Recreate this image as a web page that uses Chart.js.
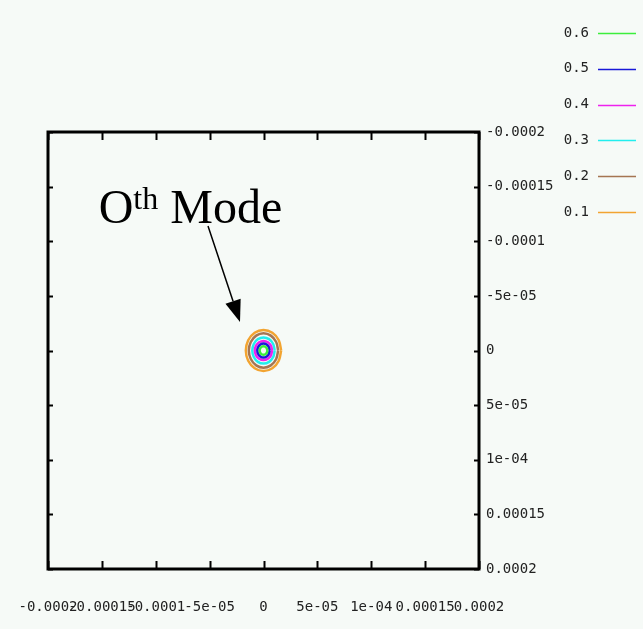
<!DOCTYPE html>
<html>
<head>
<meta charset="utf-8">
<script src="https://cdn.jsdelivr.net/npm/chart.js@4"></script>
<style>
  html, body { margin: 0; padding: 0; background: #f6faf7; }
  #wrap { width: 643px; height: 629px; }
</style>
</head>
<body>
<div id="wrap"><canvas id="modeChart"></canvas></div>
<script>
// contour levels, top of the key first
const levels = ['0.6', '0.5', '0.4', '0.3', '0.2', '0.1'];
const levelColors = ['#3cee3c', '#1818d8', '#ee22ee', '#22eeee', '#a57552', '#f2a431'];

// contour outlines, [x, y] in units of 1e-5
const ring06 = [[0.36,0],[0.31,0.2],[0.18,0.35],[0,0.4],[-0.18,0.35],[-0.31,0.2],[-0.36,0],[-0.31,-0.2],[-0.18,-0.35],[0,-0.4],[0.18,-0.35],[0.31,-0.2]];
const ring05 = [[0.57,0],[0.49,0.32],[0.29,0.55],[0,0.65],[-0.29,0.55],[-0.49,0.32],[-0.57,0],[-0.49,-0.32],[-0.29,-0.55],[0,-0.65],[0.29,-0.55],[0.49,-0.32]];
const ring04 = [[0.8,0],[0.69,0.44],[0.4,0.76],[0,0.88],[-0.4,0.76],[-0.69,0.44],[-0.8,0],[-0.69,-0.44],[-0.4,-0.76],[0,-0.88],[0.4,-0.76],[0.69,-0.44]];
const ring03 = [[1.04,0],[0.9,0.6],[0.52,1.04],[0,1.2],[-0.52,1.04],[-0.9,0.6],[-1.04,0],[-0.9,-0.6],[-0.52,-1.04],[0,-1.2],[0.52,-1.04],[0.9,-0.6]];
const ring02 = [[1.36,0],[1.18,0.78],[0.68,1.36],[0,1.57],[-0.68,1.36],[-1.18,0.78],[-1.36,0],[-1.18,-0.78],[-0.68,-1.36],[0,-1.57],[0.68,-1.36],[1.18,-0.78]];
const ring01 = [[1.64,0],[1.42,0.94],[0.82,1.63],[0,1.88],[-0.82,1.63],[-1.42,0.94],[-1.64,0],[-1.42,-0.94],[-0.82,-1.63],[0,-1.88],[0.82,-1.63],[1.42,-0.94]];
const rings = [ring06, ring05, ring04, ring03, ring02, ring01];

// axis ticks
const tickValues = [-0.0002, -0.00015, -0.0001, -0.00005, 0, 0.00005, 0.0001, 0.00015, 0.0002];
const tickLabels = ['-0.0002', '-0.00015', '-0.0001', '-5e-05', '0', '5e-05', '1e-04', '0.00015', '0.0002'];

// label + arrow, in data coordinates
const noteAt = [-0.000153, -0.000117];
const arrowFrom = [-0.0000515, -0.000114];
const arrowTo = [-0.0000218, -0.000026];

const monoFont = { family: "'DejaVu Sans Mono', monospace", size: 14 };

function toPoints(ring) {
  const pts = ring.map(p => ({ x: p[0] * 1e-5, y: p[1] * 1e-5 }));
  pts.push(pts[0]);
  return pts;
}

const datasets = levels.map((lv, i) => ({
  label: lv,
  data: toPoints(rings[i]),
  borderColor: levelColors[i],
  backgroundColor: i === 0 ? levelColors[i] : 'transparent',
  fill: i === 0,
  borderWidth: 2.5,
  pointRadius: 0,
  showLine: true,
  tension: 0.3
}));

// frame with inward ticks, key and the mode label
const framePlugin = {
  id: 'frame',
  beforeDatasetsDraw(chart) {
    const { ctx, chartArea: a, scales: { x, y } } = chart;
    ctx.save();
    ctx.strokeStyle = '#000';
    ctx.lineWidth = 2;
    tickValues.forEach(v => {
      const px = Math.round(x.getPixelForValue(v)) + 0.5;
      ctx.beginPath();
      ctx.moveTo(px, a.bottom); ctx.lineTo(px, a.bottom - 8);
      ctx.moveTo(px, a.top); ctx.lineTo(px, a.top + 8);
      ctx.stroke();
      const py = Math.round(y.getPixelForValue(v)) + 0.5;
      ctx.beginPath();
      ctx.moveTo(a.left, py); ctx.lineTo(a.left + 5, py);
      ctx.moveTo(a.right, py); ctx.lineTo(a.right - 5, py);
      ctx.stroke();
    });
    ctx.lineWidth = 3;
    ctx.strokeRect(a.left, a.top, a.right - a.left, a.bottom - a.top);
    ctx.restore();
  },
  afterDraw(chart) {
    const { ctx, scales: { x, y } } = chart;
    ctx.save();
    // key
    ctx.font = "14px 'DejaVu Sans Mono', monospace";
    ctx.textAlign = 'right';
    ctx.textBaseline = 'middle';
    chart.data.datasets.forEach((ds, i) => {
      const ly = 33 + i * 35.8;
      ctx.fillStyle = '#222';
      ctx.fillText(ds.label, 589, ly);
      ctx.strokeStyle = ds.borderColor;
      ctx.lineWidth = 1.5;
      ctx.beginPath();
      ctx.moveTo(598, Math.round(ly) + 0.5);
      ctx.lineTo(636, Math.round(ly) + 0.5);
      ctx.stroke();
    });

    // "0th Mode"
    const tx = x.getPixelForValue(noteAt[0]);
    const ty = y.getPixelForValue(noteAt[1]);
    ctx.fillStyle = '#000';
    ctx.textAlign = 'left';
    ctx.textBaseline = 'alphabetic';
    ctx.font = "48px 'Liberation Serif', 'Times New Roman', serif";
    ctx.fillText('O', tx, ty);
    let cx = tx + ctx.measureText('O').width;
    ctx.font = "32px 'Liberation Serif', 'Times New Roman', serif";
    ctx.fillText('th', cx, ty - 14);
    cx += ctx.measureText('th').width;
    ctx.font = "48px 'Liberation Serif', 'Times New Roman', serif";
    ctx.fillText(' Mode', cx, ty);

    // arrow
    const x0 = x.getPixelForValue(arrowFrom[0]), y0 = y.getPixelForValue(arrowFrom[1]);
    const x1 = x.getPixelForValue(arrowTo[0]), y1 = y.getPixelForValue(arrowTo[1]);
    const ang = Math.atan2(y1 - y0, x1 - x0);
    const head = 22, half = 8;
    const bx = x1 - head * Math.cos(ang), by = y1 - head * Math.sin(ang);
    ctx.strokeStyle = '#000';
    ctx.lineWidth = 1.5;
    ctx.beginPath();
    ctx.moveTo(x0, y0); ctx.lineTo(bx, by);
    ctx.stroke();
    ctx.beginPath();
    ctx.moveTo(x1, y1);
    ctx.lineTo(bx + half * Math.sin(ang), by - half * Math.cos(ang));
    ctx.lineTo(bx - half * Math.sin(ang), by + half * Math.cos(ang));
    ctx.closePath();
    ctx.fill();
    ctx.restore();
  }
};

new Chart(document.getElementById('modeChart'), {
  type: 'scatter',
  data: { datasets },
  options: {
    responsive: true,
    maintainAspectRatio: false,
    animation: false,
    layout: { padding: { left: 48, top: 132, right: 0, bottom: 0 } },
    plugins: { legend: { display: false }, tooltip: { enabled: false } },
    scales: {
      x: {
        type: 'linear',
        position: 'bottom',
        min: -0.0002,
        max: 0.0002,
        afterBuildTicks: s => { s.ticks = tickValues.map(v => ({ value: v })); },
        afterFit: s => { s.height = 60; s.paddingLeft = 0; s.paddingRight = 0; },
        grid: { display: false, drawTicks: false },
        border: { display: false },
        ticks: {
          autoSkip: false,
          maxRotation: 0,
          minRotation: 0,
          padding: 30,
          color: '#222',
          font: monoFont,
          callback: (v, i) => tickLabels[i]
        }
      },
      y: {
        type: 'linear',
        position: 'right',
        reverse: true,
        min: -0.0002,
        max: 0.0002,
        afterBuildTicks: s => { s.ticks = tickValues.map(v => ({ value: v })); },
        afterFit: s => { s.width = 164; s.paddingTop = 0; s.paddingBottom = 0; },
        grid: { display: false, drawTicks: false },
        border: { display: false },
        ticks: {
          autoSkip: false,
          padding: 7,
          color: '#222',
          font: monoFont,
          callback: (v, i) => tickLabels[i]
        }
      }
    }
  },
  plugins: [framePlugin]
});
</script>
</body>
</html>
